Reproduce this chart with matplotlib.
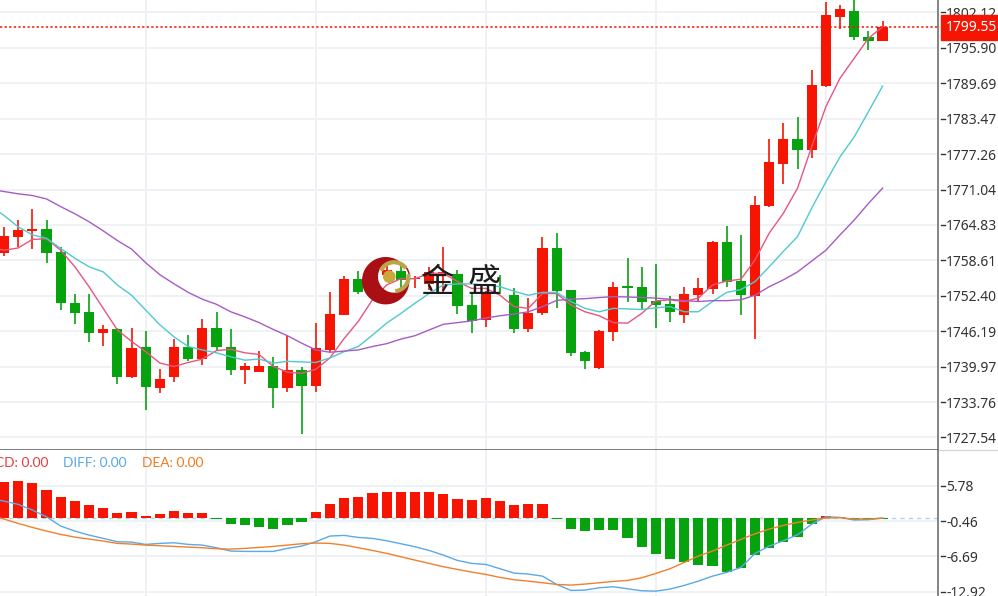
import numpy as np
import matplotlib
matplotlib.use('Agg')
import matplotlib.pyplot as plt
from matplotlib.patches import Circle, Arc, PathPatch
from matplotlib.path import Path

plt.rcParams['font.family'] = ['Noto Sans', 'DejaVu Sans']

opens = [1760.0, 1762.8, 1763.8, 1764.1, 1760.1, 1751.2, 1749.5, 1745.9, 1746.6, 1738.2,
         1743.4, 1736.3, 1738.1, 1743.4, 1741.3, 1746.8, 1743.5, 1739.3, 1739.1, 1740.1,
         1736.2, 1739.4, 1736.5, 1742.9, 1749.1, 1755.4, 1753.5, 1756.0, 1756.8, 1755.3,
         1754.5, 1756.3, 1756.3, 1750.8, 1748.2, 1753.1, 1752.5, 1746.6, 1749.3, 1760.8,
         1753.4, 1742.5, 1739.8, 1746.1, 1754.1, 1754.0, 1751.5, 1750.9, 1749.1, 1752.5,
         1753.6, 1761.9, 1755.0, 1752.4, 1768.2, 1775.6, 1780.0, 1778.0, 1789.2, 1801.4,
         1802.3, 1797.9, 1797.1]
highs = [1764.5, 1765.7, 1767.6, 1765.7, 1761.0, 1752.7, 1752.7, 1747.3, 1746.7, 1746.8,
         1746.2, 1739.5, 1744.8, 1745.6, 1748.3, 1749.6, 1746.5, 1740.6, 1742.8, 1741.6,
         1745.4, 1739.9, 1747.6, 1753.1, 1755.9, 1756.8, 1757.5, 1758.7, 1758.4, 1755.8,
         1757.5, 1761.0, 1756.9, 1752.8, 1753.3, 1756.0, 1753.7, 1752.1, 1762.8, 1763.5,
         1753.5, 1742.8, 1746.4, 1754.9, 1759.0, 1757.4, 1757.9, 1752.4, 1754.0, 1755.6,
         1762.0, 1764.6, 1763.1, 1769.9, 1780.0, 1782.7, 1783.7, 1792.1, 1804.0, 1803.4,
         1805.0, 1798.9, 1800.7]
lows = [1759.3, 1761.0, 1760.6, 1758.1, 1749.9, 1747.5, 1744.3, 1743.6, 1736.9, 1737.9,
        1732.4, 1735.3, 1737.3, 1740.9, 1740.3, 1742.9, 1738.5, 1736.9, 1739.0, 1732.8,
        1735.5, 1728.1, 1735.5, 1742.6, 1749.0, 1752.8, 1753.0, 1755.2, 1753.4, 1753.7,
        1753.4, 1753.1, 1749.2, 1745.9, 1747.0, 1752.8, 1745.8, 1746.1, 1749.1, 1750.2,
        1741.8, 1739.5, 1739.5, 1744.5, 1751.4, 1750.1, 1746.8, 1747.8, 1747.7, 1751.4,
        1752.8, 1754.0, 1749.0, 1744.8, 1767.9, 1772.0, 1774.6, 1776.5, 1789.1, 1799.2,
        1797.3, 1795.6, 1797.1]
closes = [1762.9, 1763.9, 1764.1, 1760.0, 1751.1, 1749.4, 1745.9, 1746.5, 1738.2, 1743.3,
          1736.4, 1737.8, 1743.5, 1741.3, 1746.8, 1743.4, 1739.4, 1740.0, 1740.1, 1736.2,
          1739.4, 1736.5, 1743.2, 1749.2, 1755.4, 1753.0, 1756.0, 1756.9, 1755.1, 1755.5,
          1756.5, 1756.6, 1750.6, 1748.0, 1752.8, 1753.0, 1746.6, 1749.4, 1760.8, 1753.2,
          1742.3, 1741.0, 1746.3, 1754.0, 1753.8, 1751.3, 1750.8, 1749.5, 1752.7, 1753.8,
          1761.9, 1754.9, 1752.5, 1768.3, 1775.8, 1780.0, 1778.0, 1789.4, 1801.6, 1802.7,
          1797.8, 1797.1, 1799.55]

# moving averages, first value sits one bar left of the picture
ma5 = [1760.9, 1760.4, 1760.8, 1762.3, 1762.4, 1760.4, 1757.5, 1754.0, 1750.2, 1746.4,
       1744.4, 1742.6, 1740.6, 1740.0, 1740.7, 1741.3, 1742.8, 1743.0, 1742.4, 1742.1,
       1740.0, 1739.0, 1738.8, 1739.5, 1741.5, 1744.9, 1747.9, 1751.7, 1754.3, 1755.4,
       1755.4, 1756.35, 1756.35, 1754.9, 1753.7, 1753.7, 1752.5, 1750.5, 1750.2, 1752.8,
       1752.8, 1750.8, 1749.6, 1748.9, 1747.7, 1747.6, 1749.3, 1751.5, 1751.7, 1751.4,
       1752.0, 1754.3, 1755.0, 1755.3, 1758.7, 1763.4, 1766.9, 1771.3, 1778.6, 1785.6,
       1790.6, 1794.1, 1797.6, 1799.6]
ma10 = [1768.2, 1766.5, 1764.5, 1763.1, 1762.5, 1760.7, 1759.0, 1757.5, 1756.6, 1754.3,
        1752.5, 1749.9, 1747.3, 1745.2, 1743.5, 1742.9, 1742.4, 1741.7, 1741.1, 1741.3,
        1740.6, 1740.9, 1740.8, 1740.7, 1741.5, 1742.6, 1743.5, 1745.5, 1747.6, 1749.3,
        1751.1, 1752.8, 1754.3, 1754.5, 1754.5, 1754.3, 1754.0, 1753.2, 1752.5, 1753.0,
        1753.0, 1751.4, 1750.2, 1749.6, 1750.2, 1750.1, 1750.0, 1750.3, 1750.5, 1749.6,
        1749.6, 1751.4, 1753.0, 1753.5, 1754.9, 1757.5, 1760.2, 1762.8, 1767.8, 1772.4,
        1776.8, 1780.3, 1784.7, 1789.2]
ma20 = [1771.1, 1770.7, 1770.3, 1770.0, 1769.4, 1768.05, 1766.8, 1765.4, 1763.8, 1762.1,
        1760.6, 1758.2, 1756.1, 1754.5, 1753.0, 1751.8, 1750.9, 1749.6, 1748.7, 1747.7,
        1746.5, 1745.4, 1744.1, 1742.9, 1742.5, 1742.7, 1742.9, 1743.5, 1744.0, 1744.8,
        1745.4, 1746.4, 1747.4, 1747.7, 1748.0, 1748.5, 1748.9, 1749.2, 1749.6, 1750.5,
        1751.6, 1751.8, 1751.9, 1752.1, 1752.25, 1752.2, 1752.1, 1752.0, 1751.8, 1751.55,
        1751.4, 1751.55, 1751.55, 1751.7, 1752.5, 1754.0, 1755.2, 1756.6, 1758.5, 1760.4,
        1763.1, 1765.7, 1768.6, 1771.3]

macd = [6.40, 6.63, 6.16, 5.05, 3.70, 3.11, 2.35, 1.82, 0.88, 1.06, 0.41, 0.82, 1.35, 1.00, 1.00,
        -0.05, -0.94, -1.17, -1.53, -1.82, -1.23, -0.59, 1.12, 2.58, 3.58, 3.82, 4.40, 4.64, 4.64,
        4.70, 4.70, 4.23, 3.46, 3.29, 3.58, 3.11, 2.29, 2.52, 2.47, -0.03, -1.82, -2.17, -2.00,
        -2.11, -3.46, -4.99, -6.22, -7.22, -7.75, -8.22, -8.39, -9.51, -8.81, -6.40, -5.17, -4.23,
        -3.23, -1.00, 0.41, 0.23, -0.29, -0.23, -0.06]
diff = [3.5, 3.05, 2.47, 1.47, 0.29, -1.35, -2.23, -2.94, -3.52, -4.11, -4.17, -4.58, -4.40, -4.29,
        -4.58, -4.70, -5.17, -5.75, -5.81, -5.81, -5.81, -5.28, -4.87, -4.11, -3.11, -2.99, -3.35,
        -3.52, -3.93, -4.46, -4.99, -5.64, -6.46, -7.40, -7.92, -8.10, -8.86, -9.63, -9.80, -10.16,
        -11.62, -12.68, -12.62, -12.21, -12.03, -12.39, -12.74, -12.80, -12.44, -11.80, -11.04,
        -10.16, -9.51, -8.63, -6.16, -4.87, -3.93, -2.88, -1.00, 0.29, 0.18, -0.29, -0.23, 0.06]
dea = [0.59, -0.12, -0.88, -1.58, -2.23, -2.82, -3.29, -3.64, -3.99, -4.40, -4.52, -4.70, -4.81,
       -4.93, -5.05, -5.17, -5.34, -5.40, -5.28, -5.11, -4.93, -4.70, -4.46, -4.34, -4.40, -4.70,
       -5.17, -5.64, -6.16, -6.75, -7.34, -7.92, -8.51, -8.98, -9.45, -9.86, -10.39, -10.80, -11.04,
       -11.33, -11.62, -11.74, -11.56, -11.33, -11.09, -10.92, -10.45, -9.69, -8.86, -7.75, -6.63,
       -5.75, -4.70, -3.70, -2.70, -1.88, -1.23, -0.70, -0.29, 0.06, 0.12, -0.12, -0.12, 0.06]

price_ticks = [1802.12, 1795.90, 1789.69, 1783.47, 1777.26, 1771.04, 1764.83, 1758.61,
               1752.40, 1746.19, 1739.97, 1733.76, 1727.54]
macd_ticks = [5.78, -0.46, -6.69, -12.92]
time_grid = [10, 22, 34, 46, 58]
last_price = 1799.55

RED = '#f61502'
GREEN = '#06a30f'
GRID = '#eef1f5'
AXIS = '#6f6f6f'
TEXT = '#333333'

W, H = 998, 596
fig = plt.figure(figsize=(W / 100, H / 100), dpi=100)
ax1 = fig.add_axes([0, 1 - 449.5 / H, 938 / W, 449.5 / H])
ax2 = fig.add_axes([0, 0, 938 / W, (H - 450) / H])

x = np.arange(len(opens))
xl = np.arange(-1, len(opens))
colors = [RED if c >= o else GREEN for o, c in zip(opens, closes)]

# candles
ax1.vlines(x, lows, highs, colors=colors, linewidth=1.2, zorder=3)
ax1.bar(x, np.abs(np.array(closes) - np.array(opens)), bottom=np.minimum(opens, closes),
        width=0.72, color=colors, zorder=3)
ax1.plot(xl, ma5, color='#e8557f', linewidth=1.0, zorder=4)
ax1.plot(xl, ma10, color='#4fc9cf', linewidth=1.0, zorder=4)
ax1.plot(xl, ma20, color='#a65cc2', linewidth=1.0, zorder=4)
ax1.axhline(last_price, color=RED, linewidth=1.1, linestyle=(0, (1.5, 1.5)), zorder=5)

# macd pane
ax2.axhline(0, color='#a9d6e6', linewidth=1, linestyle=(0, (3, 3)), zorder=1)
ax2.bar(x, macd, width=0.72, color=[RED if v >= 0 else GREEN for v in macd], zorder=3)
ax2.plot(xl, diff, color='#5aa9e8', linewidth=1.0, zorder=4)
ax2.plot(xl, dea, color='#f0802c', linewidth=1.0, zorder=4)

ax1.set_ylim(1725.43, 1804.31)
ax2.set_ylim(-13.66, 12.04)

for ax, ticks, fmt in [(ax1, price_ticks, '%.2f'), (ax2, macd_ticks, '%.2f')]:
    ax.set_xlim(-0.282, 65.91)
    ax.set_xticks([])
    ax.set_yticks(ticks)
    ax.set_yticklabels([fmt % t for t in ticks])
    ax.yaxis.tick_right()
    ax.tick_params(axis='y', length=0, pad=5.8, labelsize=10.0, labelcolor=TEXT)
    for t in ticks:
        ax.axhline(t, color=GRID, linewidth=1.3, zorder=0)
        ax.plot([1.003, 1.007], [t, t], color=TEXT, linewidth=1,
                transform=ax.get_yaxis_transform(), clip_on=False)
    for g in time_grid:
        ax.axvline(g, color=GRID, linewidth=1.3, zorder=0)
    for s in ['top', 'left', 'bottom']:
        ax.spines[s].set_visible(False)
    ax.spines['right'].set_color(AXIS)
    ax.spines['right'].set_linewidth(1.2)

ax1.spines['bottom'].set_visible(True)
ax1.spines['bottom'].set_color(AXIS)
ax1.spines['bottom'].set_linewidth(1.3)

ax1.text(1.0085, last_price, '%.2f' % last_price, color='white', fontsize=10.0, va='center', ha='left',
         transform=ax1.get_yaxis_transform(), clip_on=False, zorder=10,
         bbox=dict(facecolor=RED, edgecolor=RED, boxstyle='square,pad=0.36'))

# overlay in picture pixels, legend text and watermark
ov = fig.add_axes([0, 0, 1, 1], zorder=20)
ov.set_xlim(0, W)
ov.set_ylim(H, 0)
ov.axis('off')
ov.plot([939, W], [450, 450], color='#d8d8d8', linewidth=1)

for tx, label, col in [(-27, 'MACD: 0.00', '#e83a3a'), (63, 'DIFF: 0.00', '#55a8e8'), (142, 'DEA: 0.00', '#ee7a22')]:
    ov.text(tx, 463, label, color=col, fontsize=9.9, family='Lato', va='center', ha='left')

# logo: crescent with a hole, gold arcs and ball
t = np.linspace(0, 2 * np.pi, 80)
outer = np.c_[385.7 + 23.7 * np.cos(t), 280.7 + 23.7 * np.sin(t)]
inner = np.c_[394 + 16 * np.cos(t[::-1]), 276.7 + 16 * np.sin(t[::-1])]
crescent = Path(np.r_[outer, inner],
                np.r_[[Path.MOVETO], [Path.LINETO] * 79, [Path.MOVETO], [Path.LINETO] * 79])
ov.add_patch(PathPatch(crescent, facecolor='#ab0f16', edgecolor='none'))
ov.add_patch(Arc((394, 276.7), 29, 29, theta1=205, theta2=325, color='#bba548', linewidth=3))
ov.add_patch(Arc((394, 276.7), 29, 29, theta1=-10, theta2=85, color='#bba548', linewidth=3))
ov.add_patch(Circle((389.3, 276.7), 6.3, facecolor='#c8a93c', edgecolor='none'))

ov.text(436.5, 282, '金', fontsize=24, color='#1c1c1c', family='Noto Sans CJK SC', ha='center', va='center')
ov.text(484, 282, '盛', fontsize=24, color='#1c1c1c', family='Noto Sans CJK SC', ha='center', va='center')

fig.savefig('out.png', dpi=100)
